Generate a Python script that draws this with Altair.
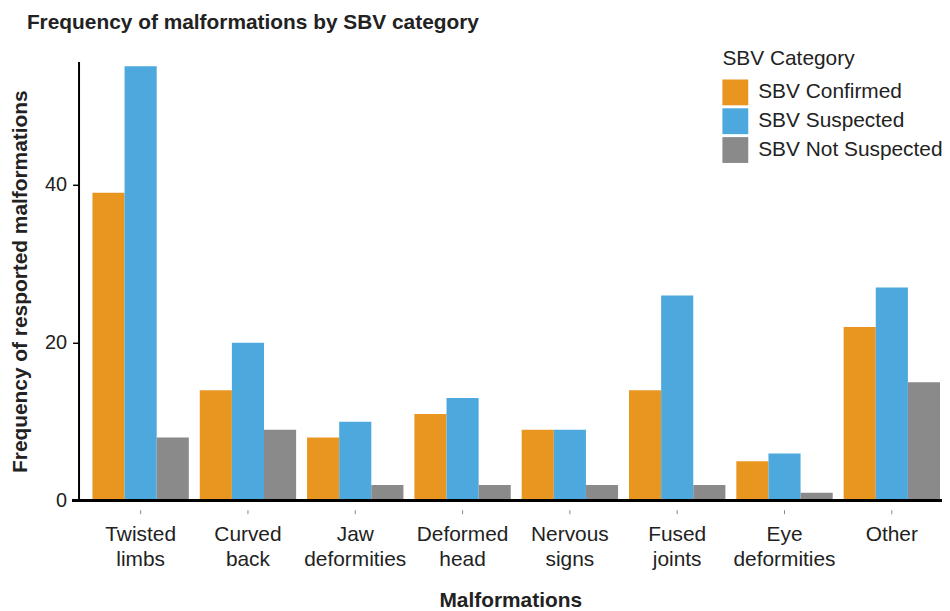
import altair as alt
import pandas as pd

categories = ["Twisted limbs", "Curved back", "Jaw deformities", "Deformed head",
              "Nervous signs", "Fused joints", "Eye deformities", "Other"]
series = ["SBV Confirmed", "SBV Suspected", "SBV Not Suspected"]
confirmed = [39, 14, 8, 11, 9, 14, 5, 22]
suspected = [55, 20, 10, 13, 9, 26, 6, 27]
not_suspected = [8, 9, 2, 2, 2, 2, 1, 15]
colors = ["#E89620", "#4DA8DE", "#8A8A8A"]
y_ticks = [0, 20, 40]

rows = []
for i, c in enumerate(categories):
    for s, vals in zip(series, [confirmed, suspected, not_suspected]):
        rows.append({"Malformation": c, "Category": s, "Frequency": vals[i]})
df = pd.DataFrame(rows)

FONT = "Liberation Sans"
TXT = "#222222"
FS = 21
W, H = 869, 442

bars = alt.Chart(df).mark_bar().encode(
    x=alt.X("Malformation:N", sort=categories,
            scale=alt.Scale(paddingInner=0.102, paddingOuter=0.074, align=0.875),
            axis=alt.Axis(title="Malformations", domain=False, offset=9, tickSize=4,
                          tickColor="#888888", tickWidth=1, labelPadding=10, labelAngle=0,
                          labelExpr="split(datum.label, ' ')", labelFontSize=FS,
                          labelLineHeight=25, labelColor=TXT, labelFont=FONT,
                          titleFontSize=FS, titleFontWeight="bold", titleColor=TXT,
                          titleFont=FONT, titleY=80, titleBaseline="top")),
    xOffset=alt.XOffset("Category:N", sort=series,
                        scale=alt.Scale(paddingInner=0, paddingOuter=0)),
    y=alt.Y("Frequency:Q", scale=alt.Scale(domain=[0, 55.6], nice=False),
            axis=alt.Axis(title="Frequency of resported malformations", values=y_ticks,
                          grid=False, domainColor="black", domainWidth=2,
                          tickColor="black", tickSize=6, tickWidth=1.5,
                          labelPadding=6, labelFontSize=20, labelColor=TXT, labelFont=FONT,
                          titleFontSize=FS, titleFontWeight="bold", titleColor=TXT,
                          titleFont=FONT, titleX=-58, titleY=H / 2,
                          titleAlign="center", titleBaseline="middle", titleAngle=-90)),
    color=alt.Color("Category:N", sort=series,
                    scale=alt.Scale(domain=series, range=colors),
                    legend=alt.Legend(orient="none", legendX=648, legendY=-14,
                                      title="SBV Category", titleFontSize=FS,
                                      titleFontWeight="normal", titleColor=TXT,
                                      titleFont=FONT, titlePadding=11,
                                      labelFontSize=FS, labelColor=TXT, labelFont=FONT,
                                      labelOffset=10, labelLimit=400,
                                      symbolType="square", symbolSize=676,
                                      symbolStrokeWidth=0, symbolOpacity=1,
                                      rowPadding=3)),
)

baseline = alt.Chart(df).mark_rule(color="black", strokeWidth=2.5).encode(
    y=alt.datum(0), x=alt.value(-6), x2=alt.value(W)
)

chart = alt.layer(bars, baseline).properties(
    width=W, height=H,
    title=alt.TitleParams("Frequency of malformations by SBV category", anchor="start",
                          frame="group", dx=-52, dy=20, fontSize=FS, fontWeight="bold",
                          color=TXT, font=FONT, baseline="alphabetic", offset=18),
    autosize=alt.AutoSizeParams(type="none"),
    padding={"left": 71, "top": 52, "right": 0, "bottom": 109},
).configure(font=FONT).configure_view(stroke=None)

chart.save("out.html", embed_options={"renderer": "svg", "actions": False})
